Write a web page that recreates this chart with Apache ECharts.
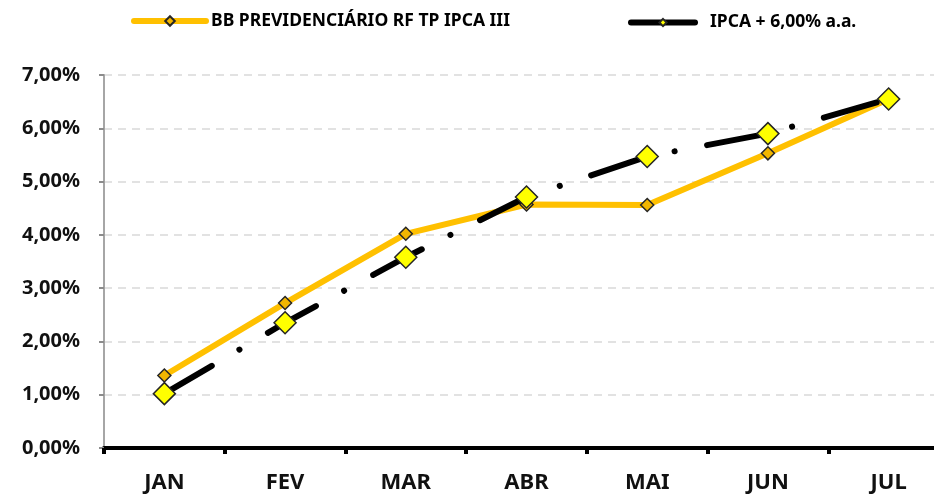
<!DOCTYPE html>
<html>
<head>
<meta charset="utf-8">
<script src="https://cdn.jsdelivr.net/npm/echarts@6/dist/echarts.min.js"></script>
<style>
  html, body { margin: 0; padding: 0; background: #fff; }
  #main { width: 934px; height: 495px; }
</style>
</head>
<body>
<div id="main"></div>
<script>
// dados
var meses = ['JAN', 'FEV', 'MAR', 'ABR', 'MAI', 'JUN', 'JUL']
var nomeFundo = 'BB PREVIDENCIÁRIO RF TP IPCA III'
var nomeMeta = 'IPCA + 6,00% a.a.'
var fundo = [1.36, 2.72, 4.02, 4.57, 4.56, 5.53, 6.55]
var meta = [1.02, 2.35, 3.58, 4.71, 5.47, 5.90, 6.55]

var FONT = 'Noto Sans'
var chart = echarts.init(document.getElementById('main'))

function pct (v) {
  return v.toFixed(2).replace('.', ',') + '%'
}

var legendText = { fontFamily: FONT, fontWeight: 'bold', fontSize: 17.5, color: '#000' }

var option = {
  animation: false,
  backgroundColor: '#fff',
  legend: [
    {
      top: 7,
      left: 126,
      itemWidth: 72,
      itemHeight: 12,
      textStyle: legendText,
      data: [{ name: nomeFundo, lineStyle: { type: 'solid', width: 6, cap: 'round' } }]
    },
    {
      top: 8.5,
      left: 623,
      itemWidth: 64,
      itemHeight: 9,
      textStyle: Object.assign({ padding: [0, 0, 0, 10] }, legendText),
      data: [{ name: nomeMeta, lineStyle: { type: 'solid', width: 6, cap: 'round' } }]
    }
  ],
  grid: {
    left: 104,
    top: 75,
    bottom: 47,
    width: 845,
    outerBoundsMode: 'none'
  },
  xAxis: {
    type: 'category',
    data: meses,
    boundaryGap: true,
    axisLine: { lineStyle: { color: '#000', width: 4 } },
    axisTick: { show: true, interval: 0, length: 6, lineStyle: { color: '#000', width: 4 } },
    axisLabel: { margin: 24, fontFamily: FONT, fontWeight: 'bold', fontSize: 22, color: '#111' }
  },
  yAxis: {
    type: 'value',
    min: 0,
    max: 7,
    interval: 1,
    axisLine: { show: true, lineStyle: { color: '#a6a6a6', width: 2 } },
    axisTick: { show: true, length: 5, lineStyle: { color: '#8c8c8c', width: 2 } },
    axisLabel: {
      margin: 24,
      fontFamily: FONT,
      fontWeight: 'bold',
      fontSize: 20,
      color: '#111',
      formatter: pct
    },
    splitLine: { lineStyle: { color: '#d9d9d9', width: 1.5, type: [8, 6] } }
  },
  series: [
    {
      name: nomeFundo,
      type: 'line',
      data: fundo,
      symbol: 'diamond',
      symbolSize: 13,
      lineStyle: { color: '#FFC000', width: 6, cap: 'round', join: 'round' },
      itemStyle: { color: '#F2B600', borderColor: '#262626', borderWidth: 1.5 },
      z: 2
    },
    {
      name: nomeMeta,
      type: 'line',
      data: meta,
      symbol: 'diamond',
      symbolSize: 22,
      lineStyle: { color: '#000', width: 6, cap: 'round', join: 'round', type: [55, 32, 0.1, 33] },
      itemStyle: { color: '#FFFF00', borderColor: '#262626', borderWidth: 1.5 },
      z: 3
    }
  ]
}

chart.setOption(option)
</script>
</body>
</html>
